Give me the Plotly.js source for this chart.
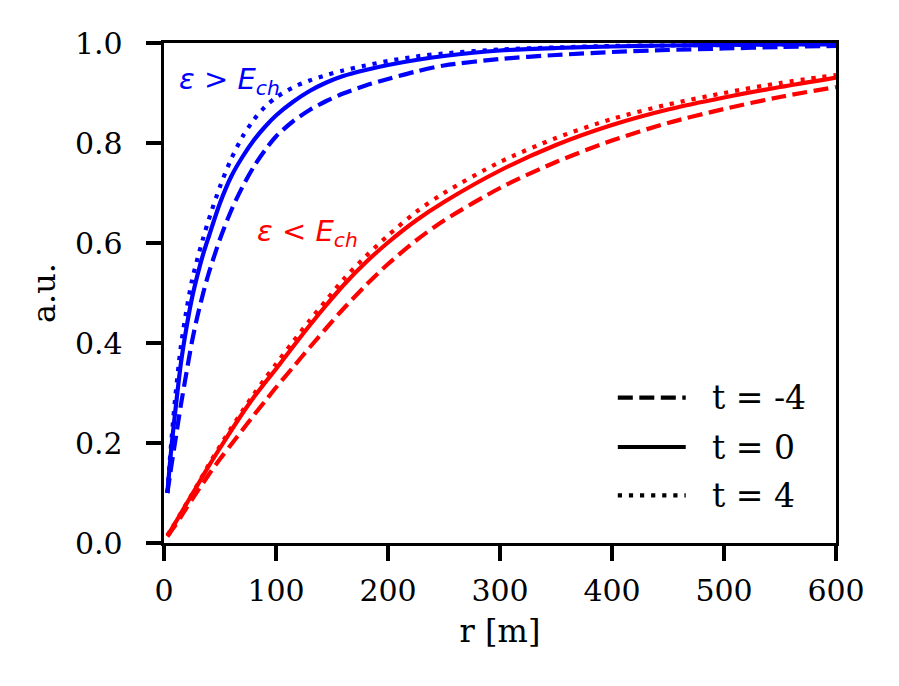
<!DOCTYPE html>
<html>
<head>
<meta charset="utf-8">
<script src="https://cdn.plot.ly/plotly-3.0.1.min.js"></script>
<style>html,body{margin:0;padding:0;background:#fff;}#chart{width:899px;height:686px;}</style>
</head>
<body>
<div id="chart"></div>
<script>
// r grid [m]
const r = [3,5,7,10,15,20,25,30,35,40,50,60,70,80,90,100,115,130,145,160,180,200,225,250,300,350,400,450,500,550,600];

// epsilon > E_ch (blue)
const blueTm4 = [0.10,0.13,0.16,0.203,0.275,0.34,0.403,0.455,0.50,0.54,0.608,0.665,0.712,0.752,0.785,0.813,0.843,0.866,0.884,0.899,0.915,0.928,0.943,0.955,0.968,0.976,0.982,0.986,0.989,0.992,0.994];
const blueT0  = [0.10,0.152,0.20,0.262,0.358,0.43,0.49,0.537,0.578,0.613,0.68,0.733,0.772,0.805,0.832,0.855,0.882,0.904,0.921,0.934,0.946,0.956,0.966,0.974,0.985,0.990,0.993,0.995,0.996,0.997,0.997];
const blueT4  = [0.10,0.16,0.215,0.29,0.392,0.465,0.525,0.57,0.61,0.647,0.713,0.768,0.812,0.846,0.872,0.891,0.911,0.925,0.936,0.945,0.955,0.964,0.973,0.979,0.987,0.991,0.994,0.995,0.996,0.997,0.998];

// epsilon < E_ch (red)
const redTm4 = [0.013,0.019,0.026,0.035,0.052,0.07,0.087,0.104,0.12,0.137,0.168,0.197,0.226,0.255,0.283,0.311,0.351,0.391,0.43,0.468,0.515,0.558,0.605,0.645,0.71,0.762,0.805,0.84,0.868,0.892,0.912];
const redT0  = [0.015,0.022,0.029,0.04,0.059,0.078,0.097,0.116,0.135,0.154,0.19,0.225,0.259,0.291,0.32,0.348,0.392,0.435,0.476,0.515,0.561,0.601,0.645,0.682,0.745,0.796,0.836,0.867,0.891,0.912,0.931];
const redT4  = [0.015,0.022,0.03,0.04,0.06,0.079,0.098,0.117,0.137,0.157,0.194,0.23,0.264,0.297,0.328,0.358,0.402,0.445,0.486,0.527,0.573,0.615,0.662,0.70,0.762,0.81,0.848,0.877,0.90,0.92,0.936];

const legendLabels = ['t = -4','t = 0','t = 4'];
const xTicks = [0,100,200,300,400,500,600];
const yTicks = [0,0.2,0.4,0.6,0.8,1.0];

const DASH = '15px,6.5px';
const DOT = '4.2px,6.9px';
const LW = 4.2;

function tr(y, color, dash, name){
  return {x: r, y: y, type: 'scatter', mode: 'lines', name: name, showlegend: false,
    line: {color: color, width: LW, dash: dash, shape: 'spline', smoothing: 0.8}, hoverinfo: 'skip'};
}

const data = [
  tr(blueTm4, '#0000ff', DASH, 't = -4'),
  tr(blueT0,  '#0000ff', 'solid', 't = 0'),
  tr(blueT4,  '#0000ff', DOT, 't = 4'),
  tr(redTm4,  '#ff0000', DASH, 't = -4'),
  tr(redT0,   '#ff0000', 'solid', 't = 0'),
  tr(redT4,   '#ff0000', DOT, 't = 4')
];

const tickFont = {family: 'DejaVu Serif', size: 30, color: '#000'};
const titleFont = {family: 'DejaVu Serif', size: 32, color: '#000'};
const legFont = {family: 'DejaVu Serif', size: 33, color: '#000'};
const sans = 'DejaVu Sans';

// legend drawn manually (paper coords)
const legY = [0.2908, 0.192, 0.0954];
const legDash = [DASH, 'solid', DOT];
const shapes = legY.map((yy, i) => ({
  type: 'line', xref: 'paper', yref: 'paper', x0: 0.6753, x1: 0.7764, y0: yy, y1: yy,
  line: {color: '#000', width: LW, dash: legDash[i]}
}));
const annotations = legY.map((yy, i) => ({
  xref: 'paper', yref: 'paper', x: 0.812, y: yy, xanchor: 'left', yanchor: 'middle',
  text: legendLabels[i], showarrow: false, font: legFont
}));
annotations.push({
  xref: 'x', yref: 'y', x: 12, y: 0.925, xanchor: 'left', yanchor: 'middle', showarrow: false,
  text: '<i>ε</i> > <i>E</i><sub><i>ch</i></sub>', font: {family: sans, size: 29, color: '#0000ff'}
});
annotations.push({
  xref: 'x', yref: 'y', x: 81.6, y: 0.62, xanchor: 'left', yanchor: 'middle', showarrow: false,
  text: '<i>ε</i> < <i>E</i><sub><i>ch</i></sub>', font: {family: sans, size: 29, color: '#ff0000'}
});

const axisCommon = {
  showgrid: false, zeroline: false, showline: true, linecolor: '#000', linewidth: 3.3, mirror: true,
  ticks: 'outside', ticklen: 15, tickwidth: 3.3, tickcolor: '#000', tickfont: tickFont
};

const layout = {
  width: 899, height: 686,
  margin: {l: 163.5, r: 62.5, t: 42.7, b: 143.3, pad: 0},
  paper_bgcolor: '#fff', plot_bgcolor: '#fff',
  showlegend: false,
  xaxis: Object.assign({}, axisCommon, {
    range: [0, 600], tickmode: 'array', tickvals: xTicks, ticktext: xTicks.map(String),
    ticklabelstandoff: 4,
    title: {text: 'r [m]', font: titleFont, standoff: 13}
  }),
  yaxis: Object.assign({}, axisCommon, {
    range: [0, 1], tickmode: 'array', tickvals: yTicks, ticktext: yTicks.map(v => v.toFixed(1)),
    ticklabelstandoff: 17,
    title: {text: 'a.u.', font: titleFont, standoff: 10}
  }),
  shapes: shapes,
  annotations: annotations
};

Plotly.newPlot('chart', data, layout, {staticPlot: true, displayModeBar: false});
</script>
</body>
</html>
